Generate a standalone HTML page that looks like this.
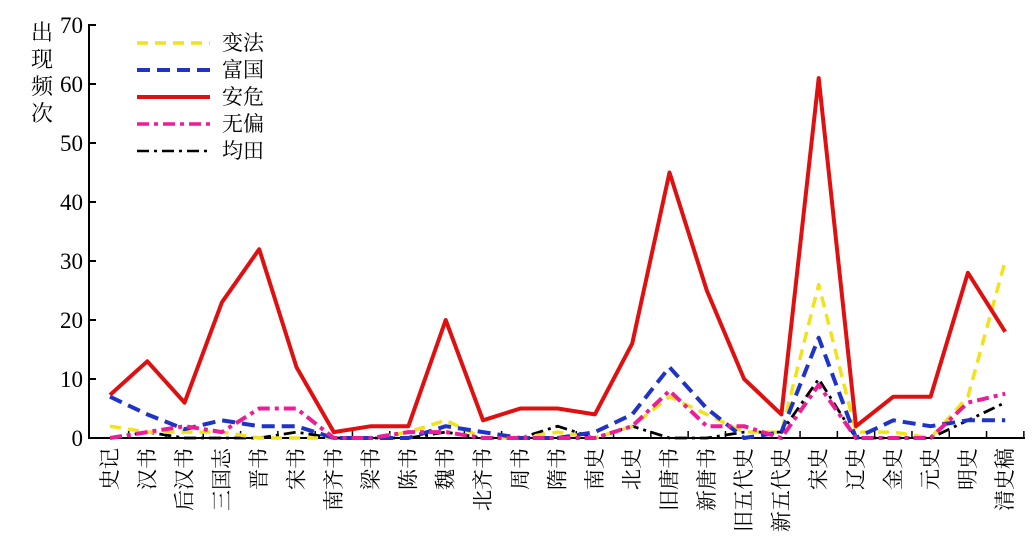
<!DOCTYPE html>
<html><head><meta charset="utf-8"><style>
html,body{margin:0;padding:0;background:#fff;}
svg{display:block;}
text{font-family:"Liberation Serif","Noto Serif CJK SC",serif;fill:#000;}
</style></head><body>
<svg width="1032" height="546" viewBox="0 0 1032 546" xmlns="http://www.w3.org/2000/svg">
<g font-size="22">
<text x="42" y="40" text-anchor="middle">出</text>
<text x="42" y="67" text-anchor="middle">现</text>
<text x="42" y="94" text-anchor="middle">频</text>
<text x="42" y="121" text-anchor="middle">次</text>
</g>
<g font-size="23" text-anchor="end">
<text x="83" y="33">70</text>
<text x="83" y="92">60</text>
<text x="83" y="151">50</text>
<text x="83" y="210">40</text>
<text x="83" y="269">30</text>
<text x="83" y="328">20</text>
<text x="83" y="387">10</text>
<text x="83" y="446">0</text>
</g>
<g stroke="#000" stroke-width="2" fill="none">
<line x1="89" y1="24" x2="89" y2="439"/>
<line x1="88" y1="438" x2="1025" y2="438"/>
<line x1="89" y1="25" x2="96" y2="25"/>
<line x1="89" y1="84" x2="96" y2="84"/>
<line x1="89" y1="143" x2="96" y2="143"/>
<line x1="89" y1="202" x2="96" y2="202"/>
<line x1="89" y1="261" x2="96" y2="261"/>
<line x1="89" y1="320" x2="96" y2="320"/>
<line x1="89" y1="379" x2="96" y2="379"/>
</g>
<g id="ticks" stroke="#000" stroke-width="1.5"></g>
<g id="series" fill="none" stroke-linejoin="round"></g>
<g id="xl" font-size="21"></g>
<g stroke-width="3.5" fill="none">
<line x1="137" y1="43" x2="210" y2="43" stroke="#f2e21a" stroke-dasharray="11,7"/>
<line x1="137" y1="70" x2="210" y2="70" stroke="#1f33c8" stroke-dasharray="13,7" stroke-width="4"/>
<line x1="137" y1="97" x2="210" y2="97" stroke="#e01010" stroke-width="4"/>
<line x1="137" y1="124" x2="210" y2="124" stroke="#ee1c96" stroke-dasharray="12,5,4,5"/>
<line x1="137" y1="151" x2="210" y2="151" stroke="#000" stroke-dasharray="12,5,3,5" stroke-width="2.5"/>
</g>
<g font-size="21">
<text x="222" y="50">变法</text>
<text x="222" y="77">富国</text>
<text x="222" y="104">安危</text>
<text x="222" y="131">无偏</text>
<text x="222" y="158">均田</text>
</g>
</svg>
<script>
const X0=110,DX=37.3,Y0=438,K=5.9;
const names=["史记","汉书","后汉书","三国志","晋书","宋书","南齐书","梁书","陈书","魏书","北齐书","周书","隋书","南史","北史","旧唐书","新唐书","旧五代史","新五代史","宋史","辽史","金史","元史","明史","清史稿"];
const ns="http://www.w3.org/2000/svg";
const tk=document.getElementById("ticks");
for(let i=0;i<25;i++){const x=X0+DX*(i+0.5);const l=document.createElementNS(ns,"line");l.setAttribute("x1",x);l.setAttribute("x2",x);l.setAttribute("y1",431);l.setAttribute("y2",438);tk.appendChild(l);}
const xl=document.getElementById("xl");
names.forEach((n,i)=>{const x=X0+DX*i;const t=document.createElementNS(ns,"text");t.setAttribute("x",x+7);t.setAttribute("y",448);t.setAttribute("text-anchor","end");t.setAttribute("transform",`rotate(-90 ${x} 448)`);t.setAttribute("dy","0");t.textContent=n;
t.setAttribute("x",448);t.setAttribute("y",x+7);t.setAttribute("transform",`translate(${x+x},${448-448}) rotate(-90 ${x} 448)`);xl.appendChild(t);});
// simplify: rebuild properly
xl.innerHTML="";
names.forEach((n,i)=>{const x=X0+DX*i;const t=document.createElementNS(ns,"text");t.setAttribute("x",0);t.setAttribute("y",0);t.setAttribute("text-anchor","end");t.setAttribute("transform",`translate(${x+7},448) rotate(-90)`);t.textContent=n;xl.appendChild(t);});
const S=[
["#000",2.8,"12,5,3,5",[0,1,0,0,0,1,0,0,0,1,0,0,2,0,2,0,0,1,1,10,0,0,0,3,6]],
["#f2e21a",3.5,"11,7",[2,1,1,1,0,0,0,0,1,3,0,0,1,0,2,7,4,1,1,26,1,1,0,7,30]],
["#1f33c8",4,"13,7",[7,4,1.5,3,2,2,0,0,0,2,1,0,0,1,4,12,5,0,1,17,0,3,2,3,3]],
["#ee1c96",4,"12,5,4,5",[0,1,2,1,5,5,0,0,1,1,0,0,0,0,2,8,2,2,0,9,0,0,0,6,7.5]],
["#e01010",4,"",[7.3,13,6,23,32,12,1,2,2,20,3,5,5,4,16,45,25,10,4,61,2,7,7,28,18]]
];
const g=document.getElementById("series");
S.forEach(([c,w,d,v])=>{const p=document.createElementNS(ns,"polyline");p.setAttribute("points",v.map((y,i)=>(X0+DX*i)+","+(Y0-y*K)).join(" "));p.setAttribute("stroke",c);p.setAttribute("stroke-width",w);if(d)p.setAttribute("stroke-dasharray",d);g.appendChild(p);});
</script>
</body></html>
